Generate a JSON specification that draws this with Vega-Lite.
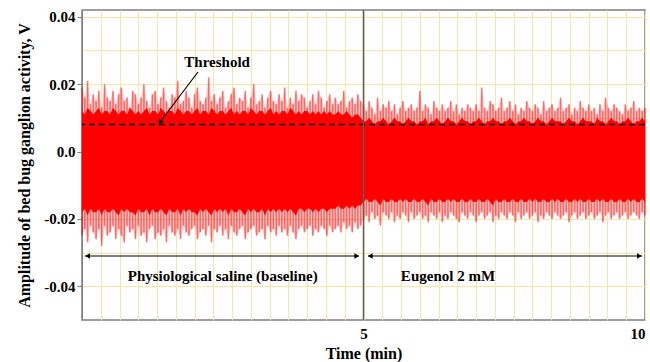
{
  "$schema": "https://vega.github.io/schema/vega-lite/v6.json",
  "width": 563,
  "height": 310,
  "autosize": {"type": "none"},
  "padding": {"left": 82, "top": 10, "right": 5, "bottom": 42},
  "background": "white",
  "config": {
    "view": {"stroke": "#7f7f7f", "strokeWidth": 1.5},
    "axis": {
      "labelFont": "Liberation Serif", "labelFontWeight": "bold", "labelFontSize": 15, "labelColor": "#000",
      "titleFont": "Liberation Serif", "titleFontWeight": "bold", "titleFontSize": 16, "titleColor": "#000",
      "gridColor": "#f7e6ab", "gridWidth": 1, "gridOpacity": 1,
      "domainColor": "#7f7f7f", "tickColor": "#7f7f7f"
    }
  },
  "datasets": {
    "signal": [
      {"t":0,"hi":0.019,"lo":-0.025,"ch":0.012,"cl":-0.018},
      {"t":0.05,"hi":0.016,"lo":-0.023,"ch":0.011,"cl":-0.017},
      {"t":0.1,"hi":0.021,"lo":-0.027,"ch":0.013,"cl":-0.019},
      {"t":0.15,"hi":0.014,"lo":-0.022,"ch":0.012,"cl":-0.017},
      {"t":0.2,"hi":0.017,"lo":-0.024,"ch":0.011,"cl":-0.018},
      {"t":0.25,"hi":0.015,"lo":-0.026,"ch":0.012,"cl":-0.018},
      {"t":0.3,"hi":0.018,"lo":-0.023,"ch":0.013,"cl":-0.017},
      {"t":0.35,"hi":0.013,"lo":-0.028,"ch":0.011,"cl":-0.019},
      {"t":0.4,"hi":0.020,"lo":-0.022,"ch":0.012,"cl":-0.017},
      {"t":0.45,"hi":0.016,"lo":-0.025,"ch":0.012,"cl":-0.018},
      {"t":0.5,"hi":0.015,"lo":-0.024,"ch":0.011,"cl":-0.018},
      {"t":0.55,"hi":0.018,"lo":-0.022,"ch":0.013,"cl":-0.017},
      {"t":0.6,"hi":0.014,"lo":-0.026,"ch":0.012,"cl":-0.018},
      {"t":0.65,"hi":0.017,"lo":-0.023,"ch":0.011,"cl":-0.019},
      {"t":0.7,"hi":0.019,"lo":-0.025,"ch":0.012,"cl":-0.017},
      {"t":0.75,"hi":0.015,"lo":-0.027,"ch":0.012,"cl":-0.018},
      {"t":0.8,"hi":0.016,"lo":-0.022,"ch":0.011,"cl":-0.017},
      {"t":0.85,"hi":0.013,"lo":-0.024,"ch":0.013,"cl":-0.018},
      {"t":0.9,"hi":0.018,"lo":-0.023,"ch":0.012,"cl":-0.018},
      {"t":0.95,"hi":0.017,"lo":-0.026,"ch":0.011,"cl":-0.019},
      {"t":1.0,"hi":0.014,"lo":-0.022,"ch":0.012,"cl":-0.017},
      {"t":1.05,"hi":0.016,"lo":-0.025,"ch":0.011,"cl":-0.018},
      {"t":1.1,"hi":0.020,"lo":-0.024,"ch":0.012,"cl":-0.018},
      {"t":1.15,"hi":0.015,"lo":-0.027,"ch":0.013,"cl":-0.017},
      {"t":1.2,"hi":0.013,"lo":-0.023,"ch":0.011,"cl":-0.019},
      {"t":1.25,"hi":0.017,"lo":-0.022,"ch":0.012,"cl":-0.017},
      {"t":1.3,"hi":0.018,"lo":-0.026,"ch":0.012,"cl":-0.018},
      {"t":1.35,"hi":0.014,"lo":-0.024,"ch":0.011,"cl":-0.018},
      {"t":1.4,"hi":0.016,"lo":-0.025,"ch":0.013,"cl":-0.017},
      {"t":1.45,"hi":0.019,"lo":-0.023,"ch":0.012,"cl":-0.018},
      {"t":1.5,"hi":0.015,"lo":-0.027,"ch":0.011,"cl":-0.019},
      {"t":1.55,"hi":0.013,"lo":-0.022,"ch":0.012,"cl":-0.017},
      {"t":1.6,"hi":0.017,"lo":-0.024,"ch":0.012,"cl":-0.018},
      {"t":1.65,"hi":0.016,"lo":-0.025,"ch":0.011,"cl":-0.018},
      {"t":1.7,"hi":0.021,"lo":-0.023,"ch":0.013,"cl":-0.017},
      {"t":1.75,"hi":0.014,"lo":-0.026,"ch":0.012,"cl":-0.019},
      {"t":1.8,"hi":0.015,"lo":-0.022,"ch":0.011,"cl":-0.017},
      {"t":1.85,"hi":0.018,"lo":-0.024,"ch":0.012,"cl":-0.018},
      {"t":1.9,"hi":0.016,"lo":-0.025,"ch":0.012,"cl":-0.017},
      {"t":1.95,"hi":0.013,"lo":-0.023,"ch":0.011,"cl":-0.018},
      {"t":2.0,"hi":0.017,"lo":-0.022,"ch":0.012,"cl":-0.018},
      {"t":2.05,"hi":0.019,"lo":-0.026,"ch":0.013,"cl":-0.019},
      {"t":2.1,"hi":0.015,"lo":-0.024,"ch":0.011,"cl":-0.017},
      {"t":2.15,"hi":0.014,"lo":-0.023,"ch":0.012,"cl":-0.018},
      {"t":2.2,"hi":0.016,"lo":-0.025,"ch":0.012,"cl":-0.017},
      {"t":2.25,"hi":0.022,"lo":-0.022,"ch":0.011,"cl":-0.018},
      {"t":2.3,"hi":0.015,"lo":-0.027,"ch":0.013,"cl":-0.019},
      {"t":2.35,"hi":0.017,"lo":-0.023,"ch":0.012,"cl":-0.017},
      {"t":2.4,"hi":0.014,"lo":-0.024,"ch":0.011,"cl":-0.018},
      {"t":2.45,"hi":0.016,"lo":-0.022,"ch":0.012,"cl":-0.017},
      {"t":2.5,"hi":0.018,"lo":-0.025,"ch":0.012,"cl":-0.018},
      {"t":2.55,"hi":0.013,"lo":-0.023,"ch":0.011,"cl":-0.017},
      {"t":2.6,"hi":0.015,"lo":-0.026,"ch":0.012,"cl":-0.019},
      {"t":2.65,"hi":0.017,"lo":-0.022,"ch":0.013,"cl":-0.017},
      {"t":2.7,"hi":0.019,"lo":-0.024,"ch":0.011,"cl":-0.018},
      {"t":2.75,"hi":0.014,"lo":-0.025,"ch":0.012,"cl":-0.018},
      {"t":2.8,"hi":0.016,"lo":-0.023,"ch":0.011,"cl":-0.017},
      {"t":2.85,"hi":0.015,"lo":-0.022,"ch":0.012,"cl":-0.018},
      {"t":2.9,"hi":0.018,"lo":-0.026,"ch":0.012,"cl":-0.019},
      {"t":2.95,"hi":0.013,"lo":-0.024,"ch":0.011,"cl":-0.017},
      {"t":3.0,"hi":0.016,"lo":-0.023,"ch":0.013,"cl":-0.018},
      {"t":3.05,"hi":0.020,"lo":-0.022,"ch":0.012,"cl":-0.017},
      {"t":3.1,"hi":0.014,"lo":-0.025,"ch":0.011,"cl":-0.018},
      {"t":3.15,"hi":0.015,"lo":-0.024,"ch":0.012,"cl":-0.018},
      {"t":3.2,"hi":0.017,"lo":-0.023,"ch":0.012,"cl":-0.017},
      {"t":3.25,"hi":0.013,"lo":-0.026,"ch":0.011,"cl":-0.019},
      {"t":3.3,"hi":0.016,"lo":-0.022,"ch":0.012,"cl":-0.017},
      {"t":3.35,"hi":0.018,"lo":-0.024,"ch":0.013,"cl":-0.018},
      {"t":3.4,"hi":0.015,"lo":-0.023,"ch":0.011,"cl":-0.017},
      {"t":3.45,"hi":0.014,"lo":-0.025,"ch":0.012,"cl":-0.018},
      {"t":3.5,"hi":0.017,"lo":-0.022,"ch":0.011,"cl":-0.017},
      {"t":3.55,"hi":0.015,"lo":-0.024,"ch":0.012,"cl":-0.018},
      {"t":3.6,"hi":0.019,"lo":-0.023,"ch":0.012,"cl":-0.017},
      {"t":3.65,"hi":0.013,"lo":-0.025,"ch":0.011,"cl":-0.018},
      {"t":3.7,"hi":0.016,"lo":-0.022,"ch":0.013,"cl":-0.017},
      {"t":3.75,"hi":0.014,"lo":-0.024,"ch":0.012,"cl":-0.018},
      {"t":3.8,"hi":0.018,"lo":-0.026,"ch":0.011,"cl":-0.019},
      {"t":3.85,"hi":0.015,"lo":-0.023,"ch":0.012,"cl":-0.017},
      {"t":3.9,"hi":0.017,"lo":-0.022,"ch":0.011,"cl":-0.017},
      {"t":3.95,"hi":0.016,"lo":-0.024,"ch":0.012,"cl":-0.018},
      {"t":4.0,"hi":0.013,"lo":-0.023,"ch":0.012,"cl":-0.017},
      {"t":4.05,"hi":0.015,"lo":-0.022,"ch":0.011,"cl":-0.017},
      {"t":4.1,"hi":0.017,"lo":-0.025,"ch":0.012,"cl":-0.018},
      {"t":4.15,"hi":0.014,"lo":-0.023,"ch":0.011,"cl":-0.017},
      {"t":4.2,"hi":0.018,"lo":-0.024,"ch":0.012,"cl":-0.018},
      {"t":4.25,"hi":0.016,"lo":-0.022,"ch":0.011,"cl":-0.017},
      {"t":4.3,"hi":0.013,"lo":-0.023,"ch":0.012,"cl":-0.017},
      {"t":4.35,"hi":0.015,"lo":-0.025,"ch":0.011,"cl":-0.018},
      {"t":4.4,"hi":0.017,"lo":-0.022,"ch":0.012,"cl":-0.017},
      {"t":4.45,"hi":0.014,"lo":-0.024,"ch":0.011,"cl":-0.017},
      {"t":4.5,"hi":0.016,"lo":-0.023,"ch":0.011,"cl":-0.017},
      {"t":4.55,"hi":0.014,"lo":-0.022,"ch":0.012,"cl":-0.016},
      {"t":4.6,"hi":0.015,"lo":-0.024,"ch":0.011,"cl":-0.017},
      {"t":4.65,"hi":0.018,"lo":-0.021,"ch":0.011,"cl":-0.017},
      {"t":4.7,"hi":0.013,"lo":-0.023,"ch":0.012,"cl":-0.016},
      {"t":4.75,"hi":0.015,"lo":-0.022,"ch":0.011,"cl":-0.017},
      {"t":4.8,"hi":0.016,"lo":-0.024,"ch":0.010,"cl":-0.016},
      {"t":4.85,"hi":0.014,"lo":-0.021,"ch":0.011,"cl":-0.017},
      {"t":4.9,"hi":0.017,"lo":-0.023,"ch":0.011,"cl":-0.016},
      {"t":4.95,"hi":0.015,"lo":-0.022,"ch":0.010,"cl":-0.016},
      {"t":5.0,"hi":0.014,"lo":-0.020,"ch":0.009,"cl":-0.015},
      {"t":5.05,"hi":0.012,"lo":-0.019,"ch":0.009,"cl":-0.014},
      {"t":5.1,"hi":0.015,"lo":-0.021,"ch":0.010,"cl":-0.015},
      {"t":5.15,"hi":0.013,"lo":-0.018,"ch":0.009,"cl":-0.015},
      {"t":5.2,"hi":0.011,"lo":-0.020,"ch":0.008,"cl":-0.014},
      {"t":5.25,"hi":0.016,"lo":-0.019,"ch":0.009,"cl":-0.015},
      {"t":5.3,"hi":0.012,"lo":-0.022,"ch":0.009,"cl":-0.016},
      {"t":5.35,"hi":0.014,"lo":-0.018,"ch":0.010,"cl":-0.014},
      {"t":5.4,"hi":0.013,"lo":-0.019,"ch":0.009,"cl":-0.015},
      {"t":5.45,"hi":0.015,"lo":-0.020,"ch":0.008,"cl":-0.015},
      {"t":5.5,"hi":0.012,"lo":-0.018,"ch":0.009,"cl":-0.014},
      {"t":5.55,"hi":0.014,"lo":-0.021,"ch":0.010,"cl":-0.015},
      {"t":5.6,"hi":0.011,"lo":-0.019,"ch":0.009,"cl":-0.015},
      {"t":5.65,"hi":0.013,"lo":-0.020,"ch":0.009,"cl":-0.014},
      {"t":5.7,"hi":0.015,"lo":-0.018,"ch":0.008,"cl":-0.015},
      {"t":5.75,"hi":0.012,"lo":-0.019,"ch":0.009,"cl":-0.014},
      {"t":5.8,"hi":0.013,"lo":-0.021,"ch":0.010,"cl":-0.015},
      {"t":5.85,"hi":0.014,"lo":-0.018,"ch":0.009,"cl":-0.015},
      {"t":5.9,"hi":0.012,"lo":-0.020,"ch":0.009,"cl":-0.014},
      {"t":5.95,"hi":0.013,"lo":-0.019,"ch":0.008,"cl":-0.015},
      {"t":6.0,"hi":0.018,"lo":-0.018,"ch":0.009,"cl":-0.015},
      {"t":6.05,"hi":0.012,"lo":-0.020,"ch":0.009,"cl":-0.014},
      {"t":6.1,"hi":0.014,"lo":-0.019,"ch":0.010,"cl":-0.015},
      {"t":6.15,"hi":0.013,"lo":-0.021,"ch":0.008,"cl":-0.016},
      {"t":6.2,"hi":0.011,"lo":-0.018,"ch":0.009,"cl":-0.014},
      {"t":6.25,"hi":0.015,"lo":-0.019,"ch":0.009,"cl":-0.015},
      {"t":6.3,"hi":0.013,"lo":-0.020,"ch":0.010,"cl":-0.015},
      {"t":6.35,"hi":0.012,"lo":-0.018,"ch":0.009,"cl":-0.014},
      {"t":6.4,"hi":0.014,"lo":-0.021,"ch":0.008,"cl":-0.015},
      {"t":6.45,"hi":0.012,"lo":-0.019,"ch":0.009,"cl":-0.015},
      {"t":6.5,"hi":0.013,"lo":-0.020,"ch":0.010,"cl":-0.014},
      {"t":6.55,"hi":0.015,"lo":-0.018,"ch":0.009,"cl":-0.015},
      {"t":6.6,"hi":0.012,"lo":-0.019,"ch":0.009,"cl":-0.014},
      {"t":6.65,"hi":0.014,"lo":-0.020,"ch":0.008,"cl":-0.015},
      {"t":6.7,"hi":0.011,"lo":-0.021,"ch":0.009,"cl":-0.015},
      {"t":6.75,"hi":0.013,"lo":-0.018,"ch":0.010,"cl":-0.014},
      {"t":6.8,"hi":0.012,"lo":-0.019,"ch":0.009,"cl":-0.015},
      {"t":6.85,"hi":0.014,"lo":-0.020,"ch":0.009,"cl":-0.015},
      {"t":6.9,"hi":0.013,"lo":-0.018,"ch":0.008,"cl":-0.014},
      {"t":6.95,"hi":0.012,"lo":-0.019,"ch":0.009,"cl":-0.015},
      {"t":7.0,"hi":0.014,"lo":-0.021,"ch":0.009,"cl":-0.015},
      {"t":7.05,"hi":0.012,"lo":-0.019,"ch":0.010,"cl":-0.014},
      {"t":7.1,"hi":0.019,"lo":-0.018,"ch":0.009,"cl":-0.015},
      {"t":7.15,"hi":0.013,"lo":-0.020,"ch":0.008,"cl":-0.015},
      {"t":7.2,"hi":0.012,"lo":-0.019,"ch":0.009,"cl":-0.014},
      {"t":7.25,"hi":0.015,"lo":-0.018,"ch":0.009,"cl":-0.015},
      {"t":7.3,"hi":0.014,"lo":-0.021,"ch":0.010,"cl":-0.016},
      {"t":7.35,"hi":0.012,"lo":-0.019,"ch":0.009,"cl":-0.014},
      {"t":7.4,"hi":0.013,"lo":-0.020,"ch":0.009,"cl":-0.015},
      {"t":7.45,"hi":0.016,"lo":-0.018,"ch":0.008,"cl":-0.015},
      {"t":7.5,"hi":0.012,"lo":-0.019,"ch":0.009,"cl":-0.014},
      {"t":7.55,"hi":0.013,"lo":-0.020,"ch":0.009,"cl":-0.015},
      {"t":7.6,"hi":0.015,"lo":-0.018,"ch":0.010,"cl":-0.015},
      {"t":7.65,"hi":0.012,"lo":-0.019,"ch":0.009,"cl":-0.014},
      {"t":7.7,"hi":0.014,"lo":-0.021,"ch":0.008,"cl":-0.015},
      {"t":7.75,"hi":0.011,"lo":-0.018,"ch":0.009,"cl":-0.015},
      {"t":7.8,"hi":0.013,"lo":-0.020,"ch":0.009,"cl":-0.014},
      {"t":7.85,"hi":0.012,"lo":-0.019,"ch":0.010,"cl":-0.015},
      {"t":7.9,"hi":0.015,"lo":-0.018,"ch":0.009,"cl":-0.015},
      {"t":7.95,"hi":0.013,"lo":-0.020,"ch":0.009,"cl":-0.014},
      {"t":8.0,"hi":0.012,"lo":-0.019,"ch":0.008,"cl":-0.015},
      {"t":8.05,"hi":0.014,"lo":-0.018,"ch":0.009,"cl":-0.014},
      {"t":8.1,"hi":0.013,"lo":-0.021,"ch":0.010,"cl":-0.015},
      {"t":8.15,"hi":0.011,"lo":-0.019,"ch":0.009,"cl":-0.015},
      {"t":8.2,"hi":0.015,"lo":-0.020,"ch":0.009,"cl":-0.014},
      {"t":8.25,"hi":0.012,"lo":-0.018,"ch":0.008,"cl":-0.015},
      {"t":8.3,"hi":0.013,"lo":-0.019,"ch":0.009,"cl":-0.015},
      {"t":8.35,"hi":0.014,"lo":-0.020,"ch":0.010,"cl":-0.014},
      {"t":8.4,"hi":0.012,"lo":-0.018,"ch":0.009,"cl":-0.015},
      {"t":8.45,"hi":0.013,"lo":-0.019,"ch":0.009,"cl":-0.014},
      {"t":8.5,"hi":0.016,"lo":-0.020,"ch":0.009,"cl":-0.015},
      {"t":8.55,"hi":0.012,"lo":-0.019,"ch":0.008,"cl":-0.015},
      {"t":8.6,"hi":0.013,"lo":-0.018,"ch":0.009,"cl":-0.014},
      {"t":8.65,"hi":0.014,"lo":-0.021,"ch":0.010,"cl":-0.015},
      {"t":8.7,"hi":0.011,"lo":-0.019,"ch":0.009,"cl":-0.015},
      {"t":8.75,"hi":0.013,"lo":-0.018,"ch":0.009,"cl":-0.014},
      {"t":8.8,"hi":0.012,"lo":-0.020,"ch":0.008,"cl":-0.015},
      {"t":8.85,"hi":0.015,"lo":-0.019,"ch":0.009,"cl":-0.014},
      {"t":8.9,"hi":0.013,"lo":-0.018,"ch":0.010,"cl":-0.015},
      {"t":8.95,"hi":0.012,"lo":-0.020,"ch":0.009,"cl":-0.015},
      {"t":9.0,"hi":0.014,"lo":-0.019,"ch":0.009,"cl":-0.014},
      {"t":9.05,"hi":0.012,"lo":-0.018,"ch":0.009,"cl":-0.015},
      {"t":9.1,"hi":0.013,"lo":-0.020,"ch":0.008,"cl":-0.015},
      {"t":9.15,"hi":0.011,"lo":-0.019,"ch":0.010,"cl":-0.014},
      {"t":9.2,"hi":0.014,"lo":-0.018,"ch":0.009,"cl":-0.015},
      {"t":9.25,"hi":0.012,"lo":-0.021,"ch":0.009,"cl":-0.014},
      {"t":9.3,"hi":0.016,"lo":-0.019,"ch":0.008,"cl":-0.015},
      {"t":9.35,"hi":0.013,"lo":-0.018,"ch":0.009,"cl":-0.015},
      {"t":9.4,"hi":0.012,"lo":-0.020,"ch":0.010,"cl":-0.014},
      {"t":9.45,"hi":0.014,"lo":-0.019,"ch":0.009,"cl":-0.015},
      {"t":9.5,"hi":0.013,"lo":-0.018,"ch":0.009,"cl":-0.015},
      {"t":9.55,"hi":0.012,"lo":-0.020,"ch":0.008,"cl":-0.014},
      {"t":9.6,"hi":0.011,"lo":-0.019,"ch":0.009,"cl":-0.015},
      {"t":9.65,"hi":0.014,"lo":-0.018,"ch":0.009,"cl":-0.015},
      {"t":9.7,"hi":0.012,"lo":-0.020,"ch":0.010,"cl":-0.014},
      {"t":9.75,"hi":0.013,"lo":-0.019,"ch":0.009,"cl":-0.015},
      {"t":9.8,"hi":0.015,"lo":-0.018,"ch":0.008,"cl":-0.014},
      {"t":9.85,"hi":0.012,"lo":-0.019,"ch":0.009,"cl":-0.015},
      {"t":9.9,"hi":0.013,"lo":-0.020,"ch":0.009,"cl":-0.015},
      {"t":9.95,"hi":0.012,"lo":-0.018,"ch":0.010,"cl":-0.014},
      {"t":10.0,"hi":0.013,"lo":-0.019,"ch":0.009,"cl":-0.015}
    ],
    "labels": [
      {"t": 2.4, "v": 0.0265, "label": "Threshold"},
      {"t": 2.5, "v": -0.037, "label": "Physiological saline (baseline)"},
      {"t": 6.5, "v": -0.037, "label": "Eugenol 2 mM"}
    ],
    "spans": [
      {"t": 0.05, "t2": 4.92, "v": -0.031, "v2": -0.031},
      {"t": 5.08, "t2": 9.95, "v": -0.031, "v2": -0.031},
      {"t": 2.06, "t2": 1.42, "v": 0.0236, "v2": 0.0095}
    ],
    "headsLeft": [{"t": 0.1, "v": -0.031}, {"t": 5.12, "v": -0.031}],
    "headsRight": [{"t": 4.88, "v": -0.031}, {"t": 9.9, "v": -0.031}],
    "headsPointer": [{"t": 1.385, "v": 0.0087}],
    "refs": [{"threshold": 0.008, "switch": 5}]
  },
  "layer": [
    {
      "data": {"name": "signal"},
      "mark": {"type": "area", "color": "#ff0000", "opacity": 0.2, "interpolate": "linear"},
      "encoding": {
        "x": {
          "field": "t", "type": "quantitative",
          "scale": {"domain": [0, 10], "nice": false, "zero": false},
          "axis": {
            "title": "Time (min)",
            "values": [0,0.3333,0.6667,1,1.3333,1.6667,2,2.3333,2.6667,3,3.3333,3.6667,4,4.3333,4.6667,5,5.3333,5.6667,6,6.3333,6.6667,7,7.3333,7.6667,8,8.3333,8.6667,9,9.3333,9.6667,10],
            "tickCount": 100,
            "labelExpr": "(datum.value > 4.99 && datum.value < 5.01) ? '5' : ((datum.value > 9.99) ? '10' : '')",
            "labelOverlap": false,
            "labelFlush": true,
            "labelBound": false,
            "tickOpacity": 0,
            "domain": false,
            "labelPadding": 1,
            "titlePadding": 4,
            "grid": true
          }
        },
        "y": {
          "field": "lo", "type": "quantitative",
          "scale": {"domain": [-0.05, 0.042], "nice": false, "zero": false},
          "axis": {
            "title": "Amplitude of bed bug ganglion activity, V",
            "values": [-0.04,-0.03,-0.02,-0.01,0,0.01,0.02,0.03,0.04],
            "tickCount": 100,
            "labelExpr": "datum.value == 0 ? '0.0' : (abs(round(datum.value * 100)) % 2 == 1 ? '' : (datum.value < 0 ? '-' : '') + format(abs(datum.value), '.2f'))",
            "tickOpacity": {"condition": {"test": "abs(round(datum.value * 100)) % 2 == 1", "value": 0}, "value": 1},
            "labelOverlap": false,
            "tickSize": 5,
            "titlePadding": 11,
            "grid": true
          }
        },
        "y2": {"field": "hi"}
      }
    },
    {
      "data": {"name": "signal"},
      "mark": {"type": "rule", "color": "#ff0000", "opacity": 0.5, "strokeWidth": 1.6},
      "encoding": {
        "x": {"field": "t", "type": "quantitative"},
        "y": {"field": "lo", "type": "quantitative"},
        "y2": {"field": "hi"}
      }
    },
    {
      "data": {"name": "signal"},
      "mark": {"type": "area", "color": "#ff0000", "opacity": 1, "interpolate": "linear"},
      "encoding": {
        "x": {"field": "t", "type": "quantitative"},
        "y": {"field": "cl", "type": "quantitative"},
        "y2": {"field": "ch"}
      }
    },
    {
      "data": {"name": "refs"},
      "mark": {"type": "rule", "color": "#000000", "strokeDash": [6, 4], "strokeWidth": 1.5},
      "encoding": {"y": {"field": "threshold", "type": "quantitative"}}
    },
    {
      "data": {"name": "refs"},
      "mark": {"type": "rule", "color": "#5e5e5e", "strokeWidth": 1.5},
      "encoding": {"x": {"field": "switch", "type": "quantitative"}}
    },
    {
      "data": {"name": "spans"},
      "mark": {"type": "rule", "color": "#000000", "strokeWidth": 1.2},
      "encoding": {
        "x": {"field": "t", "type": "quantitative"},
        "x2": {"field": "t2"},
        "y": {"field": "v", "type": "quantitative"},
        "y2": {"field": "v2"}
      }
    },
    {
      "data": {"name": "headsLeft"},
      "mark": {"type": "point", "shape": "triangle-left", "filled": true, "color": "#000000", "size": 30, "opacity": 1},
      "encoding": {
        "x": {"field": "t", "type": "quantitative"},
        "y": {"field": "v", "type": "quantitative"}
      }
    },
    {
      "data": {"name": "headsRight"},
      "mark": {"type": "point", "shape": "triangle-right", "filled": true, "color": "#000000", "size": 30, "opacity": 1},
      "encoding": {
        "x": {"field": "t", "type": "quantitative"},
        "y": {"field": "v", "type": "quantitative"}
      }
    },
    {
      "data": {"name": "headsPointer"},
      "mark": {"type": "point", "shape": "triangle-up", "filled": true, "color": "#000000", "size": 35, "angle": 217, "opacity": 1},
      "encoding": {
        "x": {"field": "t", "type": "quantitative"},
        "y": {"field": "v", "type": "quantitative"}
      }
    },
    {
      "data": {"name": "labels"},
      "mark": {"type": "text", "font": "Liberation Serif", "fontWeight": "bold", "fontSize": 15, "color": "#000000", "align": "center", "baseline": "middle"},
      "encoding": {
        "x": {"field": "t", "type": "quantitative"},
        "y": {"field": "v", "type": "quantitative"},
        "text": {"field": "label"}
      }
    }
  ]
}
